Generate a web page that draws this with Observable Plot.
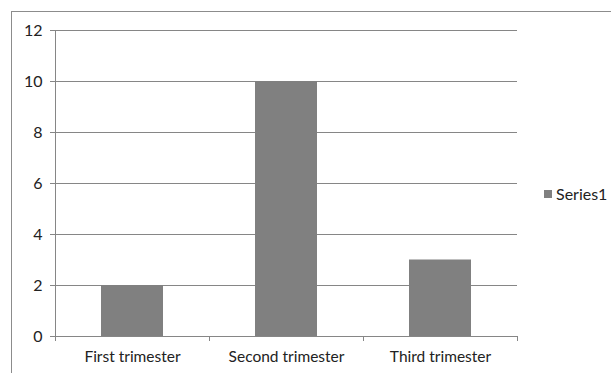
<!DOCTYPE html>
<html>
<head>
<meta charset="utf-8">
<script src="https://cdn.jsdelivr.net/npm/d3@7"></script>
<script src="https://cdn.jsdelivr.net/npm/@observablehq/plot@0.6"></script>
<style>
  html, body { margin: 0; padding: 0; background: #fff; }
  #wrap { position: relative; width: 611px; height: 373px; overflow: hidden; font-family: Lato, "Open Sans", sans-serif; }
  #border { position: absolute; left: 11px; top: 11px; width: 640px; height: 400px; border: 1px solid #8c8c8c; box-sizing: border-box; }
  #chart { position: absolute; left: 0; top: 0; }
  #legend { position: absolute; left: 544px; top: 184px; font-size: 16px; color: #222; display: flex; align-items: center; }
  #legend .sw { width: 8px; height: 8px; background: #808080; margin-right: 4px; }
</style>
</head>
<body>
<div id="wrap">
  <div id="border"></div>
  <div id="chart"></div>
  <div id="legend"></div>
</div>
<script>
const categories = ["First trimester", "Second trimester", "Third trimester"];
const series1 = [2, 10, 3];
const seriesName = "Series1";
const yTicks = [0, 2, 4, 6, 8, 10, 12];

const data = categories.map((c, i) => ({category: c, value: series1[i]}));
const axisColor = "#868686";
const barColor = "#808080";

// Category axis: a line along the base with ticks on the band boundaries
function categoryAxis(index, scales, values, dims) {
  const g = d3.create("svg:g");
  const x0 = dims.marginLeft;
  const x1 = dims.width - dims.marginRight;
  const yBase = scales.y(0);
  const yTop = scales.y(d3.max(yTicks));
  const step = (x1 - x0) / categories.length;
  g.append("line")
    .attr("x1", x0 + 0.5).attr("x2", x0 + 0.5)
    .attr("y1", yTop).attr("y2", yBase)
    .attr("stroke", axisColor);
  g.append("line")
    .attr("x1", x0).attr("x2", x1)
    .attr("y1", yBase + 0.5).attr("y2", yBase + 0.5)
    .attr("stroke", axisColor);
  for (let i = 0; i <= categories.length; i++) {
    const x = Math.round(x0 + i * step) + 0.5;
    g.append("line")
      .attr("x1", x).attr("x2", x)
      .attr("y1", yBase).attr("y2", yBase + 5)
      .attr("stroke", axisColor);
  }
  return g.node();
}

const chart = Plot.plot({
  width: 611,
  height: 373,
  marginLeft: 55,
  marginRight: 94,
  marginTop: 30,
  marginBottom: 37,
  style: {fontFamily: "Lato, 'Open Sans', sans-serif", fontSize: "16px", color: "#222", background: "transparent"},
  x: {domain: categories, paddingInner: 0.6, paddingOuter: 0.3, label: null},
  y: {domain: [0, 12], label: null},
  marks: [
    Plot.gridY(yTicks, {stroke: axisColor, strokeOpacity: 1}),
    Plot.barY(data, {x: "category", y: "value", fill: barColor}),
    Plot.axisY(yTicks, {tickSize: 5, tickPadding: 8, stroke: axisColor, label: null, fill: "#222", fontSize: 16}),
    Plot.axisX({tickSize: 0, tickPadding: 14, label: null, fill: "#222", fontSize: 15.5}),
    categoryAxis
  ]
});
document.getElementById("chart").append(chart);

const legend = document.getElementById("legend");
legend.innerHTML = `<span class="sw"></span><span>${seriesName}</span>`;
</script>
</body>
</html>
